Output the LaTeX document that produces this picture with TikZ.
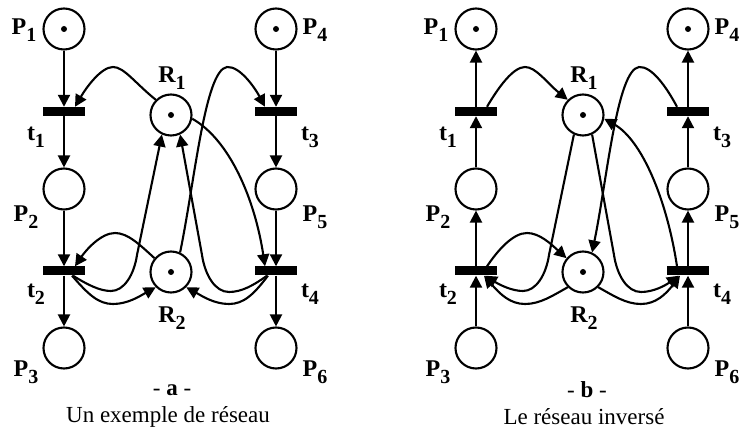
\documentclass[tikz,border=0pt]{standalone}
\usepackage{fontspec}
\setmainfont{Liberation Serif}
\usetikzlibrary{arrows.meta}
\newcommand\lb[2]{\textbf{#1\raisebox{-7pt}{\fontsize{20}{20}\selectfont\bfseries #2}}}
\tikzset{
  place/.style={circle, draw, line width=2.1pt, minimum size=41pt, inner sep=0pt},
  trans/.style={rectangle, fill=black, minimum width=42pt, minimum height=9pt, inner sep=0pt},
  tok/.style={circle, fill=black, minimum size=6pt, inner sep=0pt},
  lab/.style={inner sep=0pt, font=\fontsize{23}{26}\selectfont},
  blab/.style={inner sep=0pt, font=\fontsize{24}{26}\selectfont},
  arc/.style={line width=2.1pt, flow},
  tipa/.style={-{Triangle[length=12pt,width=12pt]}},
  tipb/.style={{Triangle[length=12pt,width=12pt]}-},
}
\newcommand\net[1]{%
  \node[place] (#1P1) at (64,29) {};
  \node[place] (#1P4) at (276,29) {};
  \node[trans] (#1t1) at (64,111.5) {};
  \node[trans] (#1t3) at (276,111.5) {};
  \node[place] (#1R1) at (171,115) {};
  \node[place] (#1P2) at (64,189) {};
  \node[place] (#1P5) at (276,189) {};
  \node[trans] (#1t2) at (64,271) {};
  \node[trans] (#1t4) at (276,271) {};
  \node[place] (#1R2) at (171,272) {};
  \node[place] (#1P3) at (64,348) {};
  \node[place] (#1P6) at (276,348) {};
  \node[tok] (#1k1) at (#1P1) {};
  \node[tok] (#1k4) at (#1P4) {};
  \node[tok] (#1kR1) at (#1R1) {};
  \node[tok] (#1kR2) at (#1R2) {};
  \node[blab] (#1lP1) at (24,30) {\lb{P}{1}};
  \node[blab] (#1lP4) at (315,30) {\lb{P}{4}};
  \node[blab] (#1lt1) at (36,137) {\lb{t}{1}};
  \node[blab] (#1lt3) at (310,137) {\lb{t}{3}};
  \node[blab] (#1lR1) at (172,78) {\lb{R}{1}};
  \node[blab] (#1lP2) at (26,217) {\lb{P}{2}};
  \node[blab] (#1lP5) at (315,217) {\lb{P}{5}};
  \node[blab] (#1lt2) at (36,294) {\lb{t}{2}};
  \node[blab] (#1lt4) at (310,294) {\lb{t}{4}};
  \node[blab] (#1lR2) at (172,318) {\lb{R}{2}};
  \node[blab] (#1lP3) at (26,372) {\lb{P}{3}};
  \node[blab] (#1lP6) at (315,372) {\lb{P}{6}};
  \draw[arc] (#1P1) -- (#1t1);
  \draw[arc] (#1t1) -- (#1P2);
  \draw[arc] (#1P2) -- (#1t2);
  \draw[arc] (#1t2) -- (#1P3);
  \draw[arc] (#1P4) -- (#1t3);
  \draw[arc] (#1t3) -- (#1P5);
  \draw[arc] (#1P5) -- (#1t4);
  \draw[arc] (#1t4) -- (#1P6);
  \draw[arc] (#1R1.135) .. controls (135,83) and (124,67) .. (113,67)
     .. controls (101,67) and (86,88) .. ([xshift=11pt]#1t1.north);
  \draw[arc] (#1R2.65) .. controls (195,180) and (205,70) .. (227,67)
     .. controls (240,66) and (255,88) .. ([xshift=-11pt]#1t3.north);
  \draw[arc] (#1R1.-10) .. controls (230,140) and (255,200) .. ([xshift=-11pt]#1t4.north);
  \draw[arc] (#1R2.140) .. controls (140,245) and (128,233) .. (115,233)
     .. controls (101,233) and (86,250) .. ([xshift=11pt]#1t2.north);
  \draw[arc] ([xshift=9pt]#1t2.south) .. controls (88,285) and (100,291) .. (111,291)
     .. controls (124,291) and (134,275) .. (137,255) -- (#1R1.245);
  \draw[arc] ([xshift=-9pt]#1t4.south) .. controls (254,285) and (242,292) .. (229,292)
     .. controls (215,292) and (205,275) .. (202,255) -- (#1R1.295);
  \draw[arc] ([xshift=8pt]#1t2.south) .. controls (88,294) and (98,304) .. (113,304)
     .. controls (128,304) and (140,296) .. (#1R2.225);
  \draw[arc] ([xshift=-8pt]#1t4.south) .. controls (254,294) and (244,304) .. (229,304)
     .. controls (214,304) and (202,296) .. (#1R2.-45);
}
\begin{document}
\begin{tikzpicture}[x=1pt,y=-1pt]
\useasboundingbox (0,0) rectangle (740,430);
\begin{scope}[flow/.style={tipa}]
  \net{a}
  \node[lab] (acapA) at (172,390) {- \textbf{a} -};
  \node[lab] (acapB) at (168,417) {Un exemple de réseau};
\end{scope}
\begin{scope}[xshift=412pt, flow/.style={tipb}]
  \net{b}
  \node[lab] (bcapA) at (175,390) {- \textbf{b} -};
  \node[lab] (bcapB) at (172,417) {Le réseau inversé};
\end{scope}
\end{tikzpicture}
\end{document}
